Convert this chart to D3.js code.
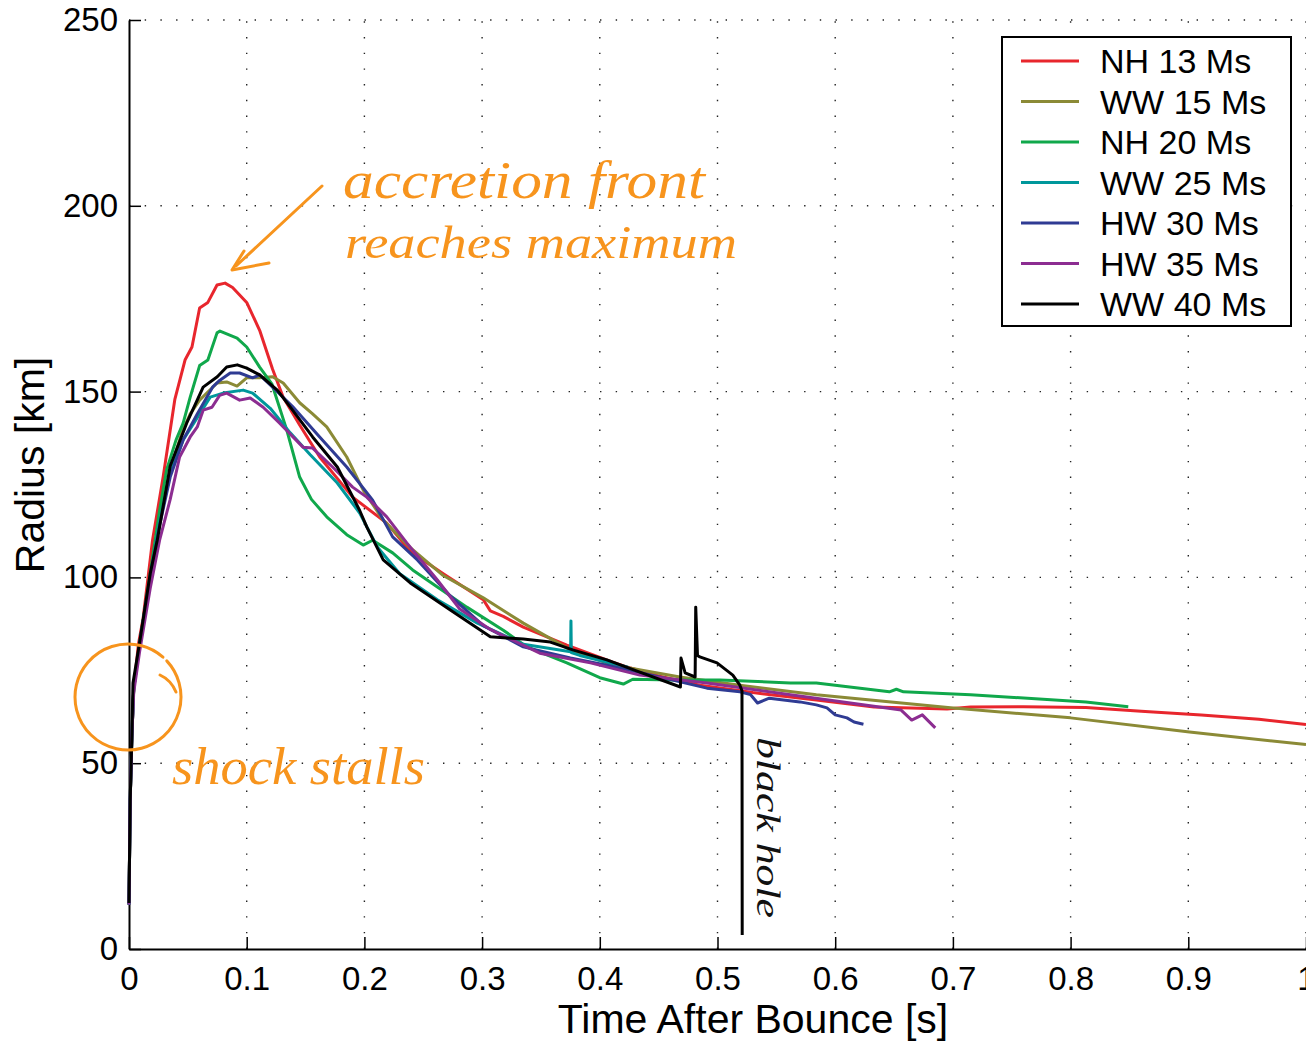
<!DOCTYPE html>
<html>
<head>
<meta charset="utf-8">
<script src="https://cdn.jsdelivr.net/npm/d3@7"></script>
<style>
body { margin: 0; background: #fff; }
svg { display: block; font-family: 'Liberation Sans', Arial, Helvetica, sans-serif; }
</style>
</head>
<body>
<div class="canvas"></div>
<script>
// shock radius [km] against time after bounce [s], one pair of arrays per model
const nh13T = [0, 0.001, 0.0025, 0.004, 0.008, 0.012, 0.020, 0.029, 0.039, 0.0476, 0.0535, 0.060, 0.067, 0.0748, 0.0816, 0.088, 0.100, 0.111, 0.122, 0.131, 0.145, 0.162, 0.190, 0.219, 0.239, 0.267, 0.301, 0.307, 0.318, 0.335, 0.372, 0.411, 0.426, 0.450, 0.485, 0.530, 0.584, 0.633, 0.695, 0.715, 0.760, 0.813, 0.860, 0.911, 0.960, 1.0];
const nh13R = [12, 40, 58, 70, 82, 89, 110, 127, 148, 158.5, 162, 172.5, 174, 178.7, 179.2, 178, 174, 166.5, 156, 148.5, 141, 132.4, 121.6, 114.6, 107, 101, 94, 91, 89.5, 86.6, 81.8, 77.2, 75.6, 73.5, 71, 69, 67, 65.1, 64.6, 65.1, 65.2, 65, 64, 63, 61.8, 60.4];

const ww15T = [0, 0.001, 0.0025, 0.004, 0.009, 0.018, 0.026, 0.035, 0.045, 0.052, 0.060, 0.0748, 0.083, 0.0918, 0.100, 0.111, 0.122, 0.131, 0.145, 0.156, 0.168, 0.185, 0.199, 0.216, 0.239, 0.267, 0.301, 0.335, 0.375, 0.411, 0.468, 0.519, 0.584, 0.698, 0.800, 0.901, 1.0];
const ww15R = [12, 40, 58, 70, 82, 100, 115, 129, 139, 144, 147.7, 152.3, 152.6, 151.5, 153.7, 153.7, 154, 152.3, 147, 144, 140.5, 132.4, 123.5, 115.4, 108, 100.5, 94.5, 87.7, 80.5, 76.4, 73.2, 71, 68.4, 64.9, 62.2, 58.4, 55];

const nh20T = [0, 0.001, 0.0025, 0.004, 0.009, 0.018, 0.026, 0.032, 0.040, 0.046, 0.052, 0.060, 0.067, 0.0748, 0.0773, 0.0918, 0.100, 0.111, 0.1215, 0.134, 0.145, 0.155, 0.168, 0.185, 0.199, 0.207, 0.224, 0.241, 0.262, 0.287, 0.318, 0.338, 0.372, 0.400, 0.420, 0.428, 0.462, 0.502, 0.562, 0.584, 0.646, 0.652, 0.658, 0.715, 0.813, 0.849];
const nh20R = [12, 40, 58, 70, 82, 101, 118, 129, 137, 141.5, 148.5, 157, 158.5, 165.8, 166.3, 164.4, 162, 156.6, 152, 139.7, 127, 121, 116.3, 111.5, 108.7, 110, 106.6, 102, 97.4, 92, 85.8, 81.3, 77, 73, 71.3, 72.6, 72.4, 72.4, 71.6, 71.6, 69.2, 69.9, 69.2, 68.4, 66.5, 65.2];

const ww25T = [0, 0.001, 0.0025, 0.004, 0.009, 0.018, 0.026, 0.035, 0.046, 0.058, 0.069, 0.080, 0.097, 0.105, 0.120, 0.137, 0.154, 0.177, 0.196, 0.211, 0.230, 0.262, 0.296, 0.335, 0.3752, 0.3755, 0.3758, 0.383, 0.424];
const ww25R = [12, 40, 58, 70, 82, 100, 115, 128, 137, 143, 148.5, 149.6, 150.4, 149.6, 145.5, 138.9, 133, 125.4, 117.3, 108.2, 101, 94, 87.7, 82, 80, 88.3, 79.8, 79, 75.8];

const hw30T = [0, 0.001, 0.0025, 0.004, 0.009, 0.018, 0.026, 0.035, 0.046, 0.058, 0.071, 0.077, 0.086, 0.094, 0.105, 0.111, 0.122, 0.139, 0.162, 0.185, 0.207, 0.224, 0.245, 0.273, 0.301, 0.335, 0.375, 0.406, 0.462, 0.491, 0.519, 0.528, 0.534, 0.544, 0.570, 0.584, 0.593, 0.600, 0.610, 0.616, 0.624];
const hw30R = [12, 40, 58, 70, 82, 100, 114, 127, 137, 144, 151.2, 153, 155, 155, 153.7, 154.5, 151.2, 146, 137.8, 129.7, 120.8, 110.9, 104.7, 95, 87, 81.3, 78.3, 76.4, 72.4, 70.2, 69.2, 68.5, 66.2, 67.5, 66.5, 65.7, 64.9, 63, 62.2, 61.1, 60.5];

const hw35T = [0, 0.001, 0.0025, 0.004, 0.009, 0.018, 0.026, 0.035, 0.043, 0.052, 0.058, 0.063, 0.0705, 0.077, 0.083, 0.094, 0.103, 0.114, 0.128, 0.148, 0.156, 0.173, 0.190, 0.202, 0.219, 0.236, 0.262, 0.281, 0.307, 0.349, 0.392, 0.434, 0.491, 0.562, 0.656, 0.665, 0.674, 0.685];
const hw35R = [12, 40, 58, 69, 80, 97, 110, 121, 132.4, 137.8, 140.5, 145, 145.8, 149, 149.6, 147.7, 148.3, 145.8, 141.5, 135, 134.8, 129.7, 124.3, 121.6, 116.3, 109.3, 99.3, 91.5, 86, 79.6, 77, 73.7, 71.6, 68.4, 64.3, 61.6, 63, 59.5];

const ww40T = [0, 0.001, 0.0025, 0.0034, 0.0093, 0.018, 0.024, 0.035, 0.049, 0.063, 0.075, 0.083, 0.092, 0.100, 0.111, 0.126, 0.139, 0.156, 0.177, 0.196, 0.202, 0.216, 0.239, 0.273, 0.307, 0.335, 0.358, 0.377, 0.406, 0.434, 0.4685, 0.469, 0.4725, 0.481, 0.4815, 0.483, 0.485, 0.4996, 0.513, 0.519, 0.5208, 0.5210];
const ww40R = [12.4, 40, 58, 71.6, 83, 101, 110, 130, 141.5, 151.2, 154, 156.6, 157.2, 156.3, 154.5, 150.4, 145, 137.8, 129.7, 118, 113.6, 104.7, 98.5, 91.2, 84, 83.4, 82.6, 80.5, 77.8, 74.5, 70.5, 78.3, 74.3, 73.2, 92, 79, 78.6, 77, 73.7, 71, 69.5, 3.8];

const seriesNames = ['NH 13 Ms', 'WW 15 Ms', 'NH 20 Ms', 'WW 25 Ms', 'HW 30 Ms', 'HW 35 Ms', 'WW 40 Ms'];
const seriesColors = ['#e8262d', '#8b8a36', '#10a84b', '#00979b', '#2f3b93', '#8c2d91', '#000000'];
const seriesTimes = [nh13T, ww15T, nh20T, ww25T, hw30T, hw35T, ww40T];
const seriesRadii = [nh13R, ww15R, nh20R, ww25R, hw30R, hw35R, ww40R];

const xTicks = [0, 0.1, 0.2, 0.3, 0.4, 0.5, 0.6, 0.7, 0.8, 0.9, 1];
const yTicks = [0, 50, 100, 150, 200, 250];

const dim = { width: 1306, height: 1041 };
const plot = { left: 129, right: 1306, top: 20, bottom: 949 };
const orange = '#f7941d';

const svg = d3.select('.canvas').append('svg')
    .attr('width', dim.width)
    .attr('height', dim.height);

const x = d3.scaleLinear().domain([0, 1]).range([plot.left, plot.right]);
const y = d3.scaleLinear().domain([0, 250]).range([plot.bottom, plot.top]);

// dotted grid
const grid = svg.append('g')
    .attr('stroke', '#222')
    .attr('stroke-width', 1.4)
    .attr('stroke-dasharray', '1.4,14.3');

grid.selectAll('.gx').data(xTicks.slice(1)).enter().append('line')
    .attr('x1', d => x(d)).attr('x2', d => x(d))
    .attr('y1', plot.bottom).attr('y2', plot.top);

grid.selectAll('.gy').data(yTicks.slice(1)).enter().append('line')
    .attr('y1', d => y(d)).attr('y2', d => y(d))
    .attr('x1', plot.left).attr('x2', plot.right);

// axes, ticks pointing inward
const xAxis = d3.axisBottom(x)
    .tickValues(xTicks)
    .tickSize(-12)
    .tickSizeOuter(0)
    .tickPadding(18)
    .tickFormat(d3.format('~g'));

const yAxis = d3.axisLeft(y)
    .tickValues(yTicks)
    .tickSize(-12)
    .tickSizeOuter(0)
    .tickPadding(11);

const gx = svg.append('g')
    .attr('transform', `translate(0, ${plot.bottom})`)
    .call(xAxis);

const gy = svg.append('g')
    .attr('transform', `translate(${plot.left}, 0)`)
    .call(yAxis);

[gx, gy].forEach(g => {
    g.attr('font-size', 33).attr('font-family', null);
    g.select('.domain').attr('stroke', '#000').attr('stroke-width', 2);
    g.selectAll('.tick line').attr('stroke', '#000').attr('stroke-width', 1.5);
    g.selectAll('.tick text').attr('fill', '#000');
});

// axis titles
svg.append('text')
    .attr('x', 753)
    .attr('y', 1033)
    .attr('text-anchor', 'middle')
    .attr('font-size', 41)
    .text('Time After Bounce [s]');

svg.append('text')
    .attr('transform', `translate(44, 465) rotate(-90)`)
    .attr('text-anchor', 'middle')
    .attr('font-size', 41)
    .text('Radius [km]');

// curves
const line = d3.line()
    .x(d => x(d[0]))
    .y(d => y(d[1]));

const curves = svg.append('g');

seriesNames.forEach((name, i) => {
    const pts = seriesTimes[i].map((t, j) => [t, seriesRadii[i][j]]);
    curves.append('path')
        .datum(pts)
        .attr('fill', 'none')
        .attr('stroke', seriesColors[i])
        .attr('stroke-width', 3)
        .attr('stroke-linejoin', 'round')
        .attr('d', line);
});

// legend
const legendGroup = svg.append('g');

legendGroup.append('rect')
    .attr('x', 1002).attr('y', 37)
    .attr('width', 289).attr('height', 289)
    .attr('fill', '#fff')
    .attr('stroke', '#000')
    .attr('stroke-width', 2);

const rows = legendGroup.selectAll('.row')
    .data(seriesNames)
    .enter().append('g')
    .attr('transform', (d, i) => `translate(0, ${61 + i * 40.5})`);

rows.append('line')
    .attr('x1', 1021).attr('x2', 1079)
    .attr('stroke', (d, i) => seriesColors[i])
    .attr('stroke-width', 3);

rows.append('text')
    .attr('x', 1100)
    .attr('dy', '0.36em')
    .attr('font-size', 34)
    .text(d => d);

// hand-drawn notes
const notes = svg.append('g')
    .attr('fill', orange)
    .attr('font-family', "'Liberation Serif', 'DejaVu Serif', serif")
    .attr('font-style', 'italic');

notes.append('text')
    .attr('x', 343).attr('y', 198)
    .attr('font-size', 52)
    .attr('textLength', 362)
    .attr('lengthAdjust', 'spacingAndGlyphs')
    .text('accretion front');

notes.append('text')
    .attr('x', 345).attr('y', 258)
    .attr('font-size', 46)
    .attr('textLength', 392)
    .attr('lengthAdjust', 'spacingAndGlyphs')
    .text('reaches maximum');

notes.append('text')
    .attr('x', 172).attr('y', 784)
    .attr('font-size', 52)
    .attr('textLength', 253)
    .attr('lengthAdjust', 'spacingAndGlyphs')
    .text('shock stalls');

const strokes = svg.append('g')
    .attr('fill', 'none')
    .attr('stroke', orange)
    .attr('stroke-width', 3)
    .attr('stroke-linecap', 'round')
    .attr('stroke-linejoin', 'round');

// arrow towards the peak
strokes.append('path').attr('d', 'M322,186 L236,266');
strokes.append('path').attr('d', 'M244,251 L232,270 L269,263');

// ring round the stall point, open at upper right with a small hook
const ring = d3.path();
ring.arc(128, 697, 53, -0.75, -0.75 + 2 * Math.PI - 0.1);
strokes.append('path').attr('d', ring.toString());
strokes.append('path').attr('d', 'M160,675 Q171,680 176,692');

svg.append('text')
    .attr('transform', 'translate(757, 737) rotate(90)')
    .attr('font-family', "'Liberation Serif', 'DejaVu Serif', serif")
    .attr('font-style', 'italic')
    .attr('font-size', 34)
    .attr('textLength', 181)
    .attr('lengthAdjust', 'spacingAndGlyphs')
    .attr('fill', '#111')
    .text('black hole');
</script>
</body>
</html>
